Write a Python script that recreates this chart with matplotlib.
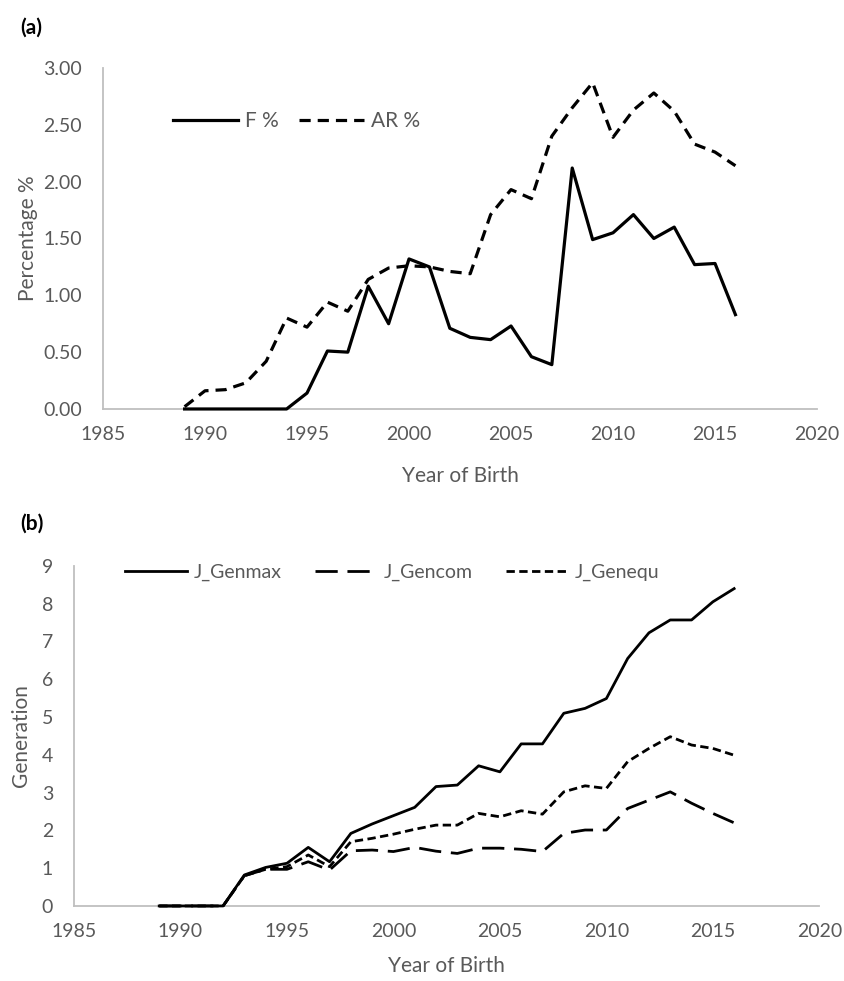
import matplotlib
matplotlib.use('Agg')
import matplotlib.pyplot as plt
from matplotlib.ticker import FormatStrFormatter

plt.rcParams['font.family'] = ['Lato', 'DejaVu Sans']

# 数据 (a): 近交系数 F% 与 平均相关系数 AR%
years = list(range(1989, 2017))
f_pct = [0.00, 0.00, 0.00, 0.00, 0.00, 0.00, 0.14, 0.51, 0.50, 1.08, 0.75,
         1.32, 1.25, 0.71, 0.63, 0.61, 0.73, 0.46, 0.39, 2.12, 1.49, 1.55,
         1.71, 1.50, 1.60, 1.27, 1.28, 0.83]
ar_pct = [0.02, 0.16, 0.17, 0.23, 0.42, 0.80, 0.72, 0.94, 0.86, 1.14, 1.24,
          1.26, 1.25, 1.21, 1.19, 1.71, 1.93, 1.85, 2.40, 2.65, 2.87, 2.39,
          2.63, 2.78, 2.62, 2.33, 2.26, 2.14]

# 数据 (b): 世代数
gen_max = [0.00, 0.00, 0.00, 0.00, 0.82, 1.02, 1.13, 1.55, 1.17, 1.92, 2.17,
           2.39, 2.61, 3.16, 3.20, 3.71, 3.55, 4.29, 4.29, 5.10, 5.23, 5.49,
           6.55, 7.23, 7.57, 7.57, 8.05, 8.40]
gen_com = [0.00, 0.00, 0.00, 0.00, 0.80, 0.97, 0.97, 1.17, 0.95, 1.46, 1.48,
           1.44, 1.55, 1.45, 1.39, 1.53, 1.53, 1.50, 1.44, 1.92, 2.01, 2.01,
           2.58, 2.80, 3.02, 2.72, 2.45, 2.20]
gen_equ = [0.00, 0.00, 0.00, 0.00, 0.80, 0.97, 1.04, 1.35, 1.04, 1.70, 1.79,
           1.90, 2.03, 2.14, 2.14, 2.45, 2.36, 2.52, 2.43, 3.02, 3.18, 3.11,
           3.82, 4.17, 4.48, 4.26, 4.17, 3.99]

x_ticks = list(range(1985, 2021, 5))
grey = '#595959'
axis_grey = '#BFBFBF'
fs = 14

fig = plt.figure(figsize=(8.45, 9.81), dpi=100)
ax1 = fig.add_axes([0.1219, 0.5831, 0.845, 0.3476])
ax2 = fig.add_axes([0.0876, 0.0765, 0.882, 0.3466])


def style_axis(ax):
    for s in ['top', 'right']:
        ax.spines[s].set_visible(False)
    for s in ['left', 'bottom']:
        ax.spines[s].set_color(axis_grey)
        ax.spines[s].set_linewidth(1.3)
        ax.spines[s].set_zorder(1)
    ax.tick_params(axis='both', length=0, labelsize=fs, colors=grey)
    ax.tick_params(axis='y', pad=15)
    ax.tick_params(axis='x', pad=12)
    ax.set_xlim(1985, 2020)
    ax.set_xticks(x_ticks)


# (a)
ax1.plot(years, f_pct, color='black', lw=2.3, label='F %', clip_on=False, zorder=4)
ax1.plot(years, ar_pct, color='black', lw=2.3, linestyle=(0, (3.5, 2.2)), label='AR %',
         clip_on=False, zorder=4)
style_axis(ax1)
ax1.set_ylim(0, 3)
ax1.set_yticks([0, 0.5, 1.0, 1.5, 2.0, 2.5, 3.0])
ax1.yaxis.set_major_formatter(FormatStrFormatter('%.2f'))
ax1.set_xlabel('Year of Birth', fontsize=fs + 1, color=grey, labelpad=17)
ax1.set_ylabel('Percentage %', fontsize=fs + 1, color=grey, labelpad=4)
ax1.legend(loc='center left', bbox_to_anchor=(0.098, 0.845), ncol=2, frameon=False,
           fontsize=fs + 1, labelcolor=grey, handlelength=3.1, handletextpad=0.35,
           columnspacing=1.0, borderpad=0, borderaxespad=0)
fig.text(20 / 845, 1 - 28 / 981, '(a)', fontsize=fs + 1, fontweight='bold',
         color='black', va='center', ha='left')

# (b)
ax2.plot(years, gen_max, color='black', lw=2.0, label='J_Genmax', clip_on=False, zorder=4)
ax2.plot(years, gen_com, color='black', lw=2.0, linestyle=(0, (8, 3.5)), label='J_Gencom',
         clip_on=False, zorder=4)
ax2.plot(years, gen_equ, color='black', lw=2.0, linestyle=(0, (3, 1.6)), label='J_Genequ',
         clip_on=False, zorder=4)
style_axis(ax2)
ax2.set_ylim(0, 9)
ax2.set_yticks(range(0, 10))
ax2.set_xlabel('Year of Birth', fontsize=fs + 1, color=grey, labelpad=12)
ax2.set_ylabel('Generation', fontsize=fs + 1, color=grey, labelpad=8)
ax2.legend(loc='center left', bbox_to_anchor=(0.068, 0.982), ncol=3, frameon=False,
           fontsize=fs, labelcolor=grey, handlelength=3.2, handletextpad=0.35,
           columnspacing=1.7, borderpad=0, borderaxespad=0)
fig.text(20 / 845, 1 - 524 / 981, '(b)', fontsize=fs + 1, fontweight='bold',
         color='black', va='center', ha='left')

fig.savefig('out.png', dpi=100)
